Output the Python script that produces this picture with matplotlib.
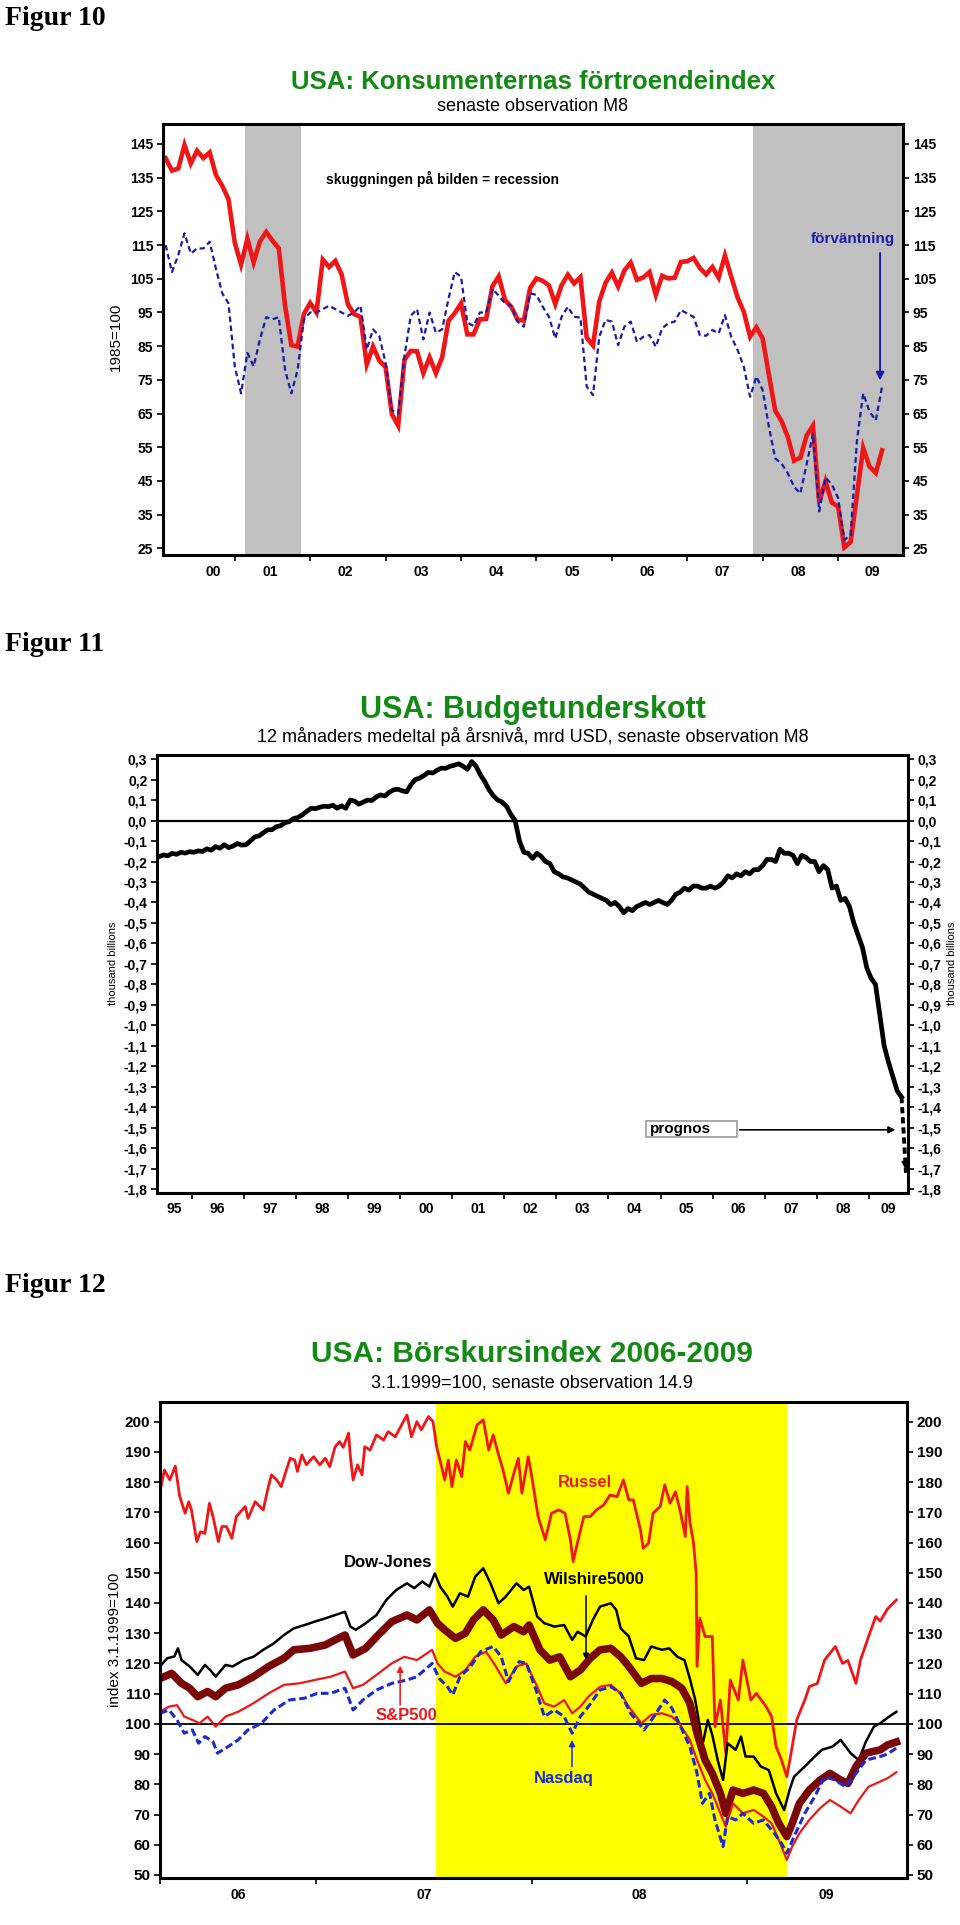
import numpy as np
import pandas as pd
import matplotlib
matplotlib.use('Agg')
import matplotlib.pyplot as plt
from matplotlib.patches import Rectangle
from matplotlib.ticker import FuncFormatter

plt.rcParams['font.family'] = ['Liberation Sans', 'DejaVu Sans']
plt.rcParams['font.weight'] = 'bold'

GREEN = '#138a13'
RED = '#ee1616'
BLUE1 = '#1c1ca8'
BLUE3 = '#1a2ad8'
MAROON = '#7a0808'
NARROW = ['Liberation Sans Narrow', 'Liberation Sans', 'DejaVu Sans']
SERIF = ['Liberation Serif', 'DejaVu Serif']

# ---------------- Figur 10: consumer confidence, monthly Feb 2000 - Aug 2009
confidence = [
    140.8, 137.1, 137.7, 144.7, 139.2, 143.0, 140.8, 142.5, 135.8, 132.6, 128.6,
    115.7, 109.2, 116.9, 109.9, 116.1, 118.9, 116.3, 114.0, 97.0, 85.3, 84.9, 94.6,
    97.8, 95.0, 110.7, 108.5, 110.3, 106.3, 97.4, 94.5, 93.7, 79.6, 84.9, 80.7,
    78.8, 64.8, 61.4, 81.0, 83.6, 83.5, 77.0, 81.7, 77.0, 81.7, 92.5, 94.8,
    97.7, 88.5, 88.5, 93.0, 93.1, 102.8, 105.7, 98.7, 96.7, 92.9, 92.6, 102.3,
    105.1, 104.4, 103.0, 97.5, 103.1, 106.2, 103.6, 105.5, 87.5, 85.2, 98.3, 103.8,
    106.8, 102.7, 107.5, 109.8, 104.7, 105.4, 107.0, 100.2, 105.9, 105.1, 105.3, 110.0,
    110.2, 111.2, 108.2, 106.3, 108.5, 105.3, 111.9, 105.6, 99.5, 95.2, 87.8, 90.6,
    87.3, 76.4, 65.9, 62.8, 58.1, 51.0, 51.9, 58.5, 61.4, 38.8, 44.9, 38.6,
    37.4, 25.3, 26.9, 40.8, 54.8, 49.3, 47.4, 54.1]
expectations = [
    115, 107, 112, 118.5, 112.5, 114, 114, 116, 108, 100.7, 97.7,
    79, 71, 83, 79, 87, 93.6, 93, 93.6, 78, 71, 78, 93,
    95, 95, 96, 97, 96, 95, 94, 95, 97, 84, 90, 88,
    80, 66, 65, 82, 94, 96, 87, 95, 89, 90, 99, 107,
    105.6, 92, 91, 95, 95, 102, 100, 97.7, 97, 92.3, 90.8, 100.7,
    100.2, 96.7, 93.7, 87.3, 93.7, 96.7, 93.7, 93.5, 73, 70.5, 87.8, 92.8,
    92.3, 85.3, 90.8, 92.3, 86.3, 87.8, 88.3, 84.8, 90.3, 91.8, 92.3, 95.7,
    94.7, 93.7, 88.3, 88.1, 89.8, 88.8, 94.2, 87.8, 83.9, 78.9, 70, 76,
    72, 61, 51.7, 50.2, 47.3, 43.3, 41.3, 50, 59, 36, 46, 44,
    40, 27.5, 29, 57, 71, 65.6, 63, 73]
recessions1 = [(2001.135, 2001.878), (2007.873, 2009.861)]
years1 = ['00', '01', '02', '03', '04', '05', '06', '07', '08', '09']

# ---------------- Figur 11: budget deficit, 12m rolling, May 1995 - Aug 2009
deficit = [
    -0.176, -0.168, -0.172, -0.16, -0.165, -0.155, -0.159, -0.152,
    -0.155, -0.148, -0.151, -0.138, -0.145, -0.127, -0.135, -0.118, -0.132, -0.125, -0.112, -0.12,
    -0.118, -0.1, -0.08, -0.075, -0.06, -0.045, -0.045, -0.03, -0.025, -0.01, -0.005, 0.01,
    0.015, 0.028, 0.045, 0.06, 0.058, 0.065, 0.07, 0.068, 0.075, 0.06, 0.072, 0.06,
    0.10, 0.095, 0.08, 0.09, 0.10, 0.098, 0.115, 0.125, 0.12, 0.138, 0.15, 0.153,
    0.145, 0.14, 0.175, 0.2, 0.207, 0.22, 0.235, 0.232, 0.245, 0.256, 0.255, 0.265,
    0.27, 0.277, 0.265, 0.25, 0.288, 0.265, 0.223, 0.19, 0.15, 0.12, 0.1, 0.09,
    0.07, 0.03, 0.0, -0.1, -0.155, -0.16, -0.185, -0.16, -0.175, -0.2, -0.21, -0.25,
    -0.26, -0.275, -0.28, -0.29, -0.3, -0.31, -0.33, -0.35, -0.36, -0.37, -0.38, -0.39,
    -0.41, -0.4, -0.42, -0.45, -0.43, -0.44, -0.42, -0.41, -0.4, -0.41, -0.4, -0.39,
    -0.4, -0.41, -0.39, -0.36, -0.35, -0.33, -0.34, -0.32, -0.32, -0.33, -0.33, -0.32,
    -0.33, -0.32, -0.3, -0.27, -0.28, -0.26, -0.27, -0.25, -0.26, -0.24, -0.24, -0.22,
    -0.19, -0.19, -0.2, -0.14, -0.16, -0.16, -0.17, -0.21, -0.17, -0.18, -0.2, -0.2,
    -0.25, -0.22, -0.24, -0.33, -0.32, -0.39, -0.38, -0.42, -0.5, -0.56, -0.62, -0.72,
    -0.77, -0.8, -0.95, -1.1, -1.18, -1.25, -1.32, -1.35]
prognos_t = [2009.625, 2009.71]
prognos_v = [-1.35, -1.72]
years2 = ['95', '96', '97', '98', '99', '00', '01', '02', '03', '04', '05', '06', '07', '08', '09']

# ---------------- Figur 12: stock indices, x = months since Jan 2006
russel_m = [3.3, 3.55, 3.85, 4.15, 4.4, 4.7, 4.9, 5.05, 5.35, 5.55, 5.8, 6.05, 6.25, 6.55, 6.75, 7.0,
            7.3, 7.55, 8.05, 8.2, 8.6, 9.05, 9.25, 9.5, 9.8, 10.05, 10.25, 10.55, 10.8, 10.95, 11.2,
            11.45, 11.85, 12.2, 12.5, 12.75, 13.05, 13.3, 13.5, 13.8, 13.9, 14.05, 14.3, 14.55, 14.7,
            15.0, 15.35, 15.75, 16.0, 16.4, 16.65, 17.05, 17.3, 17.6, 17.85, 18.25, 18.5, 18.7, 19.0,
            19.15, 19.35, 19.55, 19.8, 20.1, 20.3, 20.55, 20.95, 21.3, 21.6, 21.85, 22.15, 22.4, 22.7,
            23.0, 23.25, 23.45, 23.8, 24.0, 24.35, 24.75, 25.1, 25.5, 25.85, 26.15, 26.3, 26.6, 26.9,
            27.25, 27.6, 28.0, 28.35, 28.75, 29.1, 29.4, 29.65, 30.05, 30.2, 30.5, 30.75, 31.15, 31.4,
            31.7, 32.0, 32.25, 32.55, 32.65, 32.8, 33.0, 33.15, 33.2, 33.35, 33.65, 34.05, 34.2, 34.5,
            34.8, 35.05, 35.5, 35.75, 36.2, 36.5, 37.05, 37.35, 37.6, 37.9, 38.2, 38.5, 38.75, 39.2,
            39.45, 39.9, 40.3, 40.9, 41.3, 41.6, 42.05, 42.3, 42.75, 43.15, 43.4, 43.8, 44.3]
russel_v = [177, 184, 180.7, 185.3, 175.2, 169.7, 173.5, 170.8, 160.3, 163.6, 163, 173, 168.6, 160.3, 165.3, 165.3,
            161.4, 168.6, 171.9, 168, 173.5, 170.8, 176.3, 182.4, 180.7, 178.5, 182.4, 187.9, 187.3, 183.5, 189,
            185.7, 188.4, 185.7, 187.9, 185.1, 191.7, 193.4, 191.5, 196.2, 188.4, 180.7, 185.7, 182.4, 191.7,
            190.6, 195.6, 193.9, 196.7, 195, 197.8, 202.2, 195, 200, 197.3, 201.7, 200, 191.7, 184.6,
            180.7, 187.3, 178.5, 187.3, 181.8, 193.4, 190.6, 198.9, 200.6, 190.6, 195.6, 189, 184, 176.3,
            182.9, 187.9, 176.3, 188.4, 181.8, 168.6, 160.9, 169.7, 170.8, 169.7, 160.9, 153.7, 161.4, 168.6,
            168.6, 170.8, 172.4, 175.7, 175.2, 180.7, 174.1, 174.1, 164.2, 158.1, 159.8, 169.7, 171.9, 179.1,
            173, 176.8, 170.8, 162, 178.5, 166.9, 160, 150, 119, 135, 128.9, 128.9, 99.1, 107.9,
            90.3, 114.5, 107.9, 121.1, 107.9, 110.1, 105.7, 102.4, 92.5, 88.1, 82.5, 92.5, 101.3, 107.9,
            112.3, 113.4, 121.1, 125.6, 120, 121, 113.4, 121.1, 128.9, 135.5, 134, 138, 141]

dow_m = [3.3, 3.7, 4.1, 4.3, 4.5, 4.95, 5.4, 5.8, 6.1, 6.4, 6.95, 7.35, 7.95, 8.5, 9.05, 9.65, 10.2,
         10.75, 11.35, 11.9, 12.5, 13.05, 13.6, 13.9, 14.2, 14.75, 15.35, 15.9, 16.45, 17.05, 17.45,
         17.9, 18.3, 18.6, 18.9, 19.3, 19.6, 20.0, 20.45, 20.85, 21.3, 21.7, 22.15, 22.55, 23.15,
         23.55, 23.85, 24.3, 24.7, 25.25, 25.8, 26.25, 26.55, 27.0, 27.4, 27.8, 28.4, 28.7, 28.95,
         29.4, 29.8, 30.25, 30.65, 31.25, 31.65, 32.1, 32.5, 32.8, 33.1, 33.35, 33.5, 33.8, 34.05,
         34.35, 34.65, 34.9, 35.35, 35.65, 35.9, 36.35, 36.75, 37.2, 37.6, 38.05, 38.35, 38.6, 39.2,
         39.75, 40.15, 40.75, 41.2, 41.75, 42.2, 42.6, 43.05, 43.4, 43.8, 44.3]
dow_v = [119, 121.7, 122.3, 125, 121.1, 119, 116.2, 119.5, 117.8, 115.6, 119.5, 119, 121.1, 122.2, 124.5, 126.7, 129.4,
         131.6, 132.7, 133.8, 134.9, 136, 137.1, 132.2, 131.1, 133.3, 136, 141, 144.3, 146.5, 144.9,
         147.1, 145.4, 149.8, 145.4, 142.1, 138.8, 143.2, 142.1, 148.7, 151.5, 146.5, 139.9, 142.1, 146.5,
         144.3, 145.4, 135.5, 133.3, 132.2, 132.7, 127.8, 130.5, 128.9, 134.4, 138.8, 139.9, 137.7, 131.6,
         128.9, 121.7, 121.1, 125.6, 124.5, 125, 122.2, 121.1, 115, 107.9, 99.1, 93, 101.3, 96.3,
         88, 81.4, 93.6, 91.4, 95.8, 89.2, 89.2, 85.9, 84.7, 77, 71.5, 78.1, 82.5, 85.9,
         89.2, 91.4, 92.5, 94.7, 90.3, 88, 94.1, 99.1, 100.2, 102, 104]

wilshire_m = [3.3, 3.95, 4.5, 4.95, 5.4, 5.95, 6.4, 6.95, 7.65, 8.5, 9.35, 10.2, 10.75, 11.65, 12.5,
              13.05, 13.6, 14.05, 14.75, 15.45, 16.2, 17.05, 17.6, 18.3, 18.75, 19.15, 19.75, 20.3,
              20.75, 21.3, 21.85, 22.3, 23.0, 23.55, 23.85, 24.45, 25.0, 25.55, 26.15, 26.7, 27.25,
              27.8, 28.4, 28.95, 29.4, 30.1, 30.65, 31.25, 31.8, 32.35, 32.8, 33.2, 33.65, 34.05, 34.5,
              34.8, 35.2, 35.75, 36.35, 36.9, 37.35, 37.75, 38.2, 38.5, 38.9, 39.45, 40.05, 40.6, 41.2,
              41.6, 42.05, 42.6, 43.4, 43.8, 44.3]
wilshire_v = [115, 116.7, 113.4, 111.8, 109, 110.7, 109, 111.8, 112.9, 115.6, 119, 121.7, 124.5, 125, 126.1,
              127.8, 129.4, 122.8, 125, 129.4, 133.8, 136, 134.4, 137.7, 133.3, 131.1, 128.3, 130,
              134.4, 137.7, 134.4, 129.4, 132.2, 130.5, 132.7, 124.5, 121.1, 122.2, 115.6, 117.8, 121.7,
              124.5, 125, 122.2, 119, 113.4, 115, 115, 114, 111.8, 106.8, 96.9, 88, 83.6, 77,
              70.4, 78.1, 77, 78.1, 77, 72.6, 67.1, 62.7, 67.1, 73.7, 78.1, 81.4, 83.6, 81.4,
              80.3, 85.9, 90.3, 91.4, 93, 94]

sp500_m = [3.3, 3.8, 4.25, 4.65, 5.1, 5.5, 5.95, 6.4, 6.95, 7.65, 8.5, 9.35, 10.2, 11.05, 11.9, 12.8,
           13.6, 14.05, 14.6, 15.35, 16.2, 16.9, 17.6, 18.45, 18.75, 19.15, 19.75, 20.3, 20.85, 21.45,
           22.0, 22.55, 23.15, 23.7, 24.3, 24.7, 25.25, 25.8, 26.25, 26.7, 27.15, 27.8, 28.4, 28.95,
           29.4, 30.1, 30.65, 31.25, 31.8, 32.2, 32.8, 33.2, 33.65, 34.05, 34.5, 34.8, 35.2, 35.75,
           36.35, 36.9, 37.35, 37.75, 38.2, 38.5, 38.9, 39.45, 40.05, 40.6, 41.2, 41.75, 42.2, 42.75,
           43.4, 43.8, 44.3]
sp500_v = [104, 105.7, 106.2, 102.4, 101.3, 100.2, 102.4, 99.1, 102.4, 104, 106.8, 110.1, 112.9, 113.4, 114.5, 115.6,
           117.3, 111.8, 112.9, 116.2, 120, 122.2, 121.1, 124.5, 120, 117.3, 115.6, 117.8, 122.2, 123.9,
           119, 113.4, 119, 120, 112.3, 106.8, 105.7, 107.9, 103.5, 105.7, 109, 112.3, 112.9, 110.1,
           105.7, 100.2, 103, 103.5, 102.4, 100.2, 94.7, 88, 81.4, 77, 70.4, 66, 73.7, 70.4,
           71.5, 69.3, 67.1, 61.6, 55, 59.4, 63.8, 68.2, 72.1, 74.8, 72.6, 70.4, 74.8, 79.2,
           80.9, 82, 84]

nasdaq_m = [3.3, 3.8, 4.25, 4.65, 5.1, 5.45, 5.8, 6.25, 6.5, 7.1, 7.65, 8.2, 8.95, 9.65, 10.5, 11.35,
            12.05, 12.8, 13.6, 14.05, 14.6, 15.35, 16.2, 17.05, 17.6, 18.45, 18.85, 19.3, 19.6, 20.0,
            20.6, 21.15, 21.85, 22.3, 22.7, 23.3, 23.7, 24.3, 24.7, 25.25, 25.8, 26.25, 26.7, 27.15,
            27.8, 28.4, 28.95, 29.5, 30.25, 30.8, 31.4, 31.8, 32.2, 32.8, 33.2, 33.5, 33.9, 34.2,
            34.65, 34.9, 35.35, 35.75, 36.35, 36.9, 37.5, 37.9, 38.2, 38.6, 39.2, 39.75, 40.3, 40.9,
            41.45, 42.05, 42.6, 43.4, 43.8, 44.3]
nasdaq_v = [103.5, 104.6, 101.3, 96.9, 98, 93.6, 95.8, 94.1, 90.3, 92.5, 94.7, 98, 100.2, 104.6, 107.9, 108.5,
            110.1, 110.1, 111.8, 104.6, 107.9, 111.2, 113.4, 114.5, 115.6, 120, 115, 112.3, 109.6, 115.6,
            119, 123.9, 125.6, 122.2, 114, 120.6, 120, 110.1, 102.4, 104.6, 102.4, 96.9, 102.4, 105.7,
            111.2, 112.3, 110.1, 103.5, 98, 102.4, 107.9, 105.2, 100.2, 92.5, 83.6, 73.7, 77, 68.2,
            59.4, 69.3, 68.2, 70.4, 67.1, 68.2, 63.8, 60.5, 57.2, 62.7, 70.4, 75.9, 82.5, 81.4,
            79.2, 83.6, 88, 89.2, 90, 92]
years3 = ['06', '07', '08', '09']

W, H = 960, 1925
fig = plt.figure(figsize=(W / 100, H / 100), dpi=100)


def px_axes(left, top, right, bottom):
    return fig.add_axes([left / W, 1 - bottom / H, (right - left) / W, (bottom - top) / H])


def px_text(x, y, s, **kw):
    return fig.text(x / W, 1 - y / H, s, **kw)


def frame(ax, ysize):
    for sp in ax.spines.values():
        sp.set_linewidth(2.2)
    ax.tick_params(axis='y', left=True, right=True, labelleft=True, labelright=True,
                   direction='out', length=4, width=1.2, labelsize=ysize, pad=3)
    ax.tick_params(axis='x', which='major', direction='out', length=4, width=1.2, labelbottom=False)
    ax.tick_params(axis='x', which='minor', length=0, labelsize=10, pad=7)


# ---------- panel 1
px_text(5, 25, 'Figur 10', family=SERIF, fontsize=20, va='baseline')
px_text(533, 89, 'USA: Konsumenternas förtroendeindex', ha='center', va='baseline',
        color=GREEN, fontsize=18.5)
px_text(533, 111, 'senaste observation M8', ha='center', va='baseline', fontsize=13,
        fontweight='normal')

ax1 = px_axes(163, 124, 903, 555)
t1 = pd.date_range('2000-02-01', periods=len(confidence), freq='MS')
t1 = np.asarray(t1.year + (t1.month - 1) / 12.0)
for a, b in recessions1:
    ax1.axvspan(a, b, color='#c0c0c0', lw=0)
ax1.plot(t1, confidence, color=RED, lw=3.3, solid_joinstyle='miter')
ax1.plot(t1, expectations, color=BLUE1, lw=1.6, ls=(0, (2.5, 1.6)))
ax1.set_xlim(2000.048, 2009.861)
ax1.set_ylim(23.04, 150.93)
ax1.set_yticks(np.arange(25, 146, 10))
ax1.set_xticks(np.arange(2001, 2010))
ax1.set_xticks([2000.72] + [y + 0.47 for y in range(2001, 2009)] + [2009.45], years1, minor=True)
frame(ax1, 10)
ax1.text(2002.21, 134.6, 'skuggningen på bilden = recession', fontsize=10, va='center')
ax1.text(2009.755, 116.8, 'förväntning', color=BLUE1, fontsize=11, ha='right', va='center')
ax1.annotate('', xy=(2009.557, 74), xytext=(2009.557, 113.5),
             arrowprops=dict(arrowstyle='-|>', color=BLUE1, lw=1.4, mutation_scale=12))
px_text(116, 337, '1985=100', rotation=90, ha='center', va='center', fontsize=11,
        family=NARROW, fontweight='normal')

# ---------- panel 2
px_text(5, 651, 'Figur 11', family=SERIF, fontsize=20, va='baseline')
px_text(533, 718, 'USA: Budgetunderskott', ha='center', va='baseline', color=GREEN, fontsize=22)
px_text(533, 742, '12 månaders medeltal på årsnivå, mrd USD, senaste observation M8',
        ha='center', va='baseline', fontsize=13, fontweight='normal')

ax2 = px_axes(157, 755, 908, 1192.7)
t2 = pd.date_range('1995-05-01', periods=len(deficit), freq='MS')
t2 = np.asarray(t2.year + (t2.month - 0.5) / 12.0)
ax2.axhline(0, color='black', lw=1.6)
ax2.plot(t2, deficit, color='black', lw=3.4)
ax2.plot(prognos_t, prognos_v, color='black', lw=2.8, ls=(0, (1.6, 1.0)))
ax2.annotate('', xy=(prognos_t[1], prognos_v[1]), xytext=(prognos_t[1] - 0.01, prognos_v[1] + 0.07),
             arrowprops=dict(arrowstyle='-|>', color='black', lw=1.2, mutation_scale=12))
ax2.set_xlim(1995.334, 2009.749)
ax2.set_ylim(-1.817, 0.32)
ax2.set_yticks(np.round(np.arange(-1.8, 0.31, 0.1), 1))
ax2.yaxis.set_major_formatter(FuncFormatter(lambda v, p: f'{v:.1f}'.replace('.', ',').replace('-0,0', '0,0')))
ax2.set_xticks(np.arange(1996, 2010))
ax2.set_xticks([1995.667] + [y + 0.5 for y in range(1996, 2009)] + [2009.37], years2, minor=True)
frame(ax2, 10)
ax2.add_patch(Rectangle((2004.714, -1.546), 1.753, 0.081, fill=False, ec='#9a9a9a', lw=1.2))
ax2.text(2004.80, -1.505, 'prognos', fontsize=11, va='center')
ax2.annotate('', xy=(2009.56, -1.51), xytext=(2006.467, -1.51),
             arrowprops=dict(arrowstyle='-|>', color='black', lw=1.2, mutation_scale=10))
px_text(113, 963, 'thousand billions', rotation=90, ha='center', va='center', fontsize=8,
        family=NARROW, fontweight='normal')
px_text(952, 963, 'thousand billions', rotation=90, ha='center', va='center', fontsize=8,
        family=NARROW, fontweight='normal')

# ---------- panel 3
px_text(5, 1292, 'Figur 12', family=SERIF, fontsize=20, va='baseline')
px_text(532, 1362, 'USA: Börskursindex 2006-2009', ha='center', va='baseline', color=GREEN, fontsize=21.5)
px_text(532, 1388, '3.1.1999=100, senaste observation 14.9', ha='center', va='baseline',
        fontsize=13, fontweight='normal')

ax3 = px_axes(160, 1402, 907, 1878.3)
ax3.axvspan(18.67, 38.2, color='#ffff00', lw=0)
ax3.axhline(100, color='black', lw=1.3)
ax3.plot(russel_m, russel_v, color=RED, lw=2.0)
ax3.plot(dow_m, dow_v, color='black', lw=1.8)
ax3.plot(wilshire_m, wilshire_v, color=MAROON, lw=5.5)
ax3.plot(sp500_m, sp500_v, color=RED, lw=1.6)
ax3.plot(nasdaq_m, nasdaq_v, color=BLUE3, lw=2.2, ls=(0, (2.5, 1.2)))
ax3.set_xlim(3.3, 44.89)
ax3.set_ylim(48.9, 206.5)
ax3.set_yticks(np.arange(50, 201, 10))
ax3.set_xticks([3.3, 12, 24, 36])
ax3.set_xticks([7.68, 18, 30, 40.38], years3, minor=True)
frame(ax3, 11)
ax3.text(26.97, 179.7, 'Russel', color=RED, fontsize=12, ha='center', va='center')
ax3.text(18.45, 153.3, 'Dow-Jones', color='black', fontsize=12, ha='right', va='center')
ax3.text(27.47, 147.9, 'Wilshire5000', color='black', fontsize=12, ha='center', va='center')
ax3.annotate('', xy=(27.02, 120.2), xytext=(27.02, 143.3),
             arrowprops=dict(arrowstyle='-|>', color='black', lw=1.1, mutation_scale=9))
ax3.text(17.0, 102.9, 'S&P500', color=RED, fontsize=12, ha='center', va='center')
ax3.annotate('', xy=(16.67, 120.2), xytext=(16.67, 105.3),
             arrowprops=dict(arrowstyle='-|>', color=RED, lw=1.1, mutation_scale=9))
ax3.text(25.8, 82, 'Nasdaq', color=BLUE3, fontsize=12, ha='center', va='center')
ax3.annotate('', xy=(26.24, 95.6), xytext=(26.24, 84.9),
             arrowprops=dict(arrowstyle='-|>', color=BLUE3, lw=1.1, mutation_scale=9))
px_text(115, 1640, 'index 3.1.1999=100', rotation=90, ha='center', va='center', fontsize=11,
        family=NARROW, fontweight='normal')

fig.savefig('out.png', dpi=100)
